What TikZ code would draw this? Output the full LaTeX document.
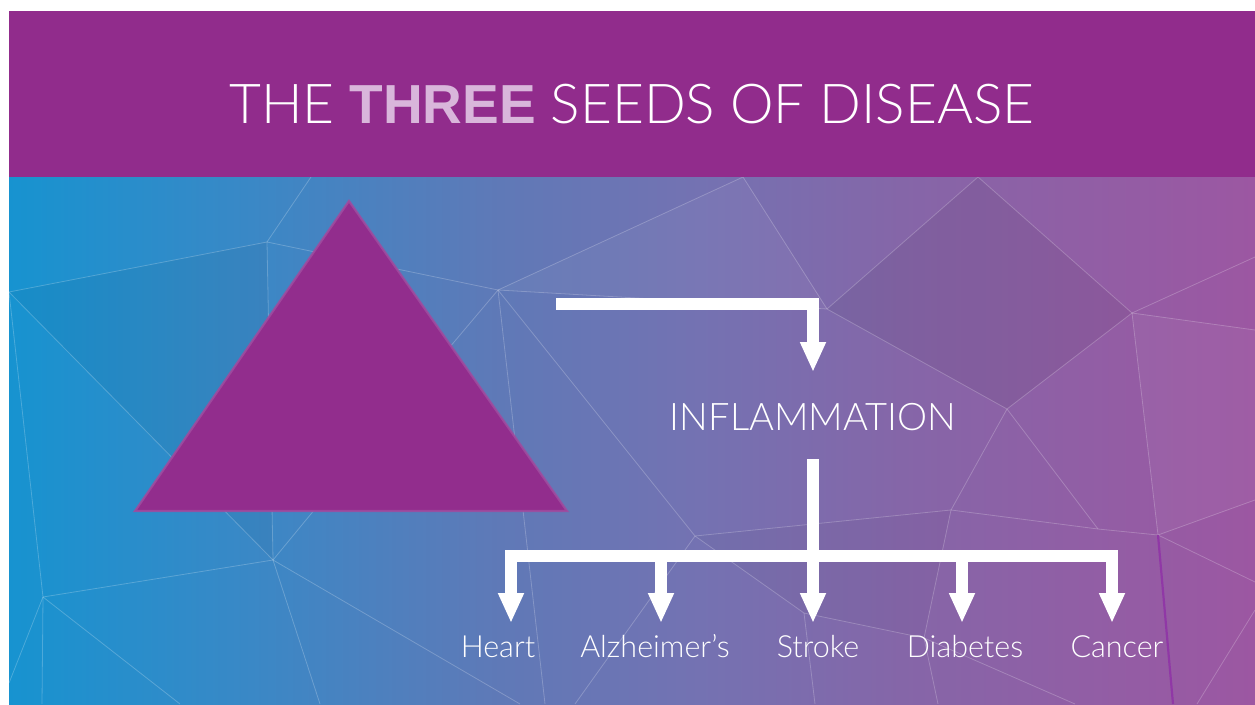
\documentclass[tikz,border=0pt]{standalone}
\usepackage{fontspec}
\usetikzlibrary{arrows.meta}
\newfontfamily\lightfont{Lato Light}
\newfontfamily\heavyfont{Liberation Sans}
\definecolor{banner}{HTML}{912C8C}
\definecolor{threecol}{HTML}{D9B6DB}
\definecolor{tri}{HTML}{922D8D}
\definecolor{triedge}{HTML}{A04C9F}
\definecolor{seam}{HTML}{9038A6}
\definecolor{g1}{HTML}{1793D0}
\definecolor{g2}{HTML}{3A88C6}
\definecolor{g3}{HTML}{5F79B7}
\definecolor{g4}{HTML}{7472B2}
\definecolor{g5}{HTML}{8566A8}
\definecolor{g6}{HTML}{9C57A2}
% left-to-right blue to violet wash of the lower panel
\pgfdeclarehorizontalshading{panelwash}{100bp}{color(0bp)=(g1); color(25bp)=(g1);
  color(34.7bp)=(g2); color(44.7bp)=(g3); color(52.7bp)=(g4); color(60.8bp)=(g5);
  color(75bp)=(g6); color(100bp)=(g6)}
\tikzset{
  facet/.style={draw=white, draw opacity=0.22, line width=0.8pt},
  flow/.style={draw=white, line width=12pt, line join=miter,
    -{Triangle[width=24pt,length=30pt]}},
  lbl/.style={text=white, inner sep=0pt, font=\lightfont\fontsize{30.5}{34}\selectfont},
}
\begin{document}
\begin{tikzpicture}[x=1pt,y=-1pt]
\useasboundingbox (0,0) rectangle (1255,704);
\fill[white] (0,0) rectangle (1255,704);
% banner
\fill[banner] (9,11) rectangle (1255,177);
% lower panel
\shade[shading=panelwash] (9,177) rectangle (1255,704);

% low-poly facets
\coordinate (A) at (267,242);
\coordinate (B) at (498,290);
\coordinate (C) at (827,309);
\coordinate (D) at (695,536);
\coordinate (E) at (1007,409);
\coordinate (F) at (1132,313);
\coordinate (G) at (1158,535);
\coordinate (H) at (951,510);
\coordinate (I) at (1098,529);
\coordinate (J) at (804,613);
\coordinate (K) at (9,292);
\coordinate (M) at (273,560);
\coordinate (N) at (43,597);
\coordinate (Q) at (400,406);
\coordinate (T) at (924,638);
\begin{scope}
\clip (9,177) rectangle (1255,704);
\fill[black, opacity=0.035] (K) -- (A) -- (M) -- cycle;
\fill[black, opacity=0.05] (C) -- (978,177) -- (F) -- (E) -- cycle;
\fill[white, opacity=0.04] (B) -- (743,177) -- (C) -- cycle;
\fill[white, opacity=0.04] (F) -- (1255,330) -- (1255,500) -- (G) -- cycle;
\fill[black, opacity=0.025] (D) -- (H) -- (T) -- (J) -- cycle;
\draw[facet] (A) -- (311,177);
\draw[facet] (K) -- (A) -- (B);
\draw[facet] (A) -- (M);
\draw[facet] (K) -- (M);
\draw[facet] (K) -- (N) -- (M);
\draw[facet] (N) -- (42,704);
\draw[facet] (N) -- (180,704);
\draw[facet] (N) -- (9,683);
\draw[facet] (M) -- (Q) -- (B);
\draw[facet] (M) -- (320,704);
\draw[facet] (M) -- (520,704);
\draw[facet] (B) -- (743,177) -- (C);
\draw[facet] (B) -- (C);
\draw[facet] (B) -- (D);
\draw[facet] (B) -- (545,704);
\draw[facet] (C) -- (978,177) -- (F);
\draw[facet] (C) -- (E) -- (F);
\draw[facet] (F) -- (1255,257);
\draw[facet] (F) -- (1255,330);
\draw[facet] (F) -- (G);
\draw[facet] (E) -- (H);
\draw[facet] (E) -- (I);
\draw[facet] (D) -- (H) -- (I) -- (G);
\draw[facet] (H) -- (T) -- (938,704);
\draw[facet] (D) -- (J) -- (T) -- (1075,704);
\draw[facet] (J) -- (815,704);
\draw[facet] (D) -- (575,704);
\draw[facet] (G) -- (1255,500);
\draw[facet] (G) -- (1255,582);
\draw[facet] (1197,704) -- (1255,610);
\draw[seam, line width=2.2pt] (G) -- (1173,704);
\end{scope}

% title
\node[anchor=base, text=white, inner sep=0pt,
      font=\lightfont\fontsize{55}{60}\selectfont] (title) at (632,123.5)
  {THE {\heavyfont\bfseries\color{threecol}THREE} SEEDS OF DISEASE};

% the seed triangle
\filldraw[fill=tri, draw=triedge, draw opacity=0.85, line width=2.2pt, line join=miter]
  (349,201) -- (567,511) -- (135,511) -- cycle;

% inflammation and its outcomes
\node[anchor=base, text=white, inner sep=0pt,
      font=\lightfont\fontsize{38}{42}\selectfont] (infl) at (813,430) {INFLAMMATION};
\node[lbl, anchor=base] (heart)  at (498,657) {Heart};
\node[lbl, anchor=base] (alz)    at (655,657) {Alzheimer’s};
\node[lbl, anchor=base] (stroke) at (818,657) {Stroke};
\node[lbl, anchor=base] (diab)   at (965,657) {Diabetes};
\node[lbl, anchor=base] (cancer) at (1117,657) {Cancer};

\coordinate (src)     at (556,304);
\coordinate (inflIn)  at (813,372);
\coordinate (inflOut) at (813,459);
\coordinate (hub)     at (813,556);
\coordinate (tHeart)  at (511,623);
\coordinate (tAlz)    at (661,623);
\coordinate (tStroke) at (813,623);
\coordinate (tDiab)   at (962,623);
\coordinate (tCancer) at (1112,623);

\draw[flow] (src) -| (inflIn);
\draw[flow] (inflOut) -- (tStroke);
\draw[flow] (hub) -| (tHeart);
\draw[flow] (hub) -| (tAlz);
\draw[flow] (hub) -| (tDiab);
\draw[flow] (hub) -| (tCancer);
\end{tikzpicture}
\end{document}
